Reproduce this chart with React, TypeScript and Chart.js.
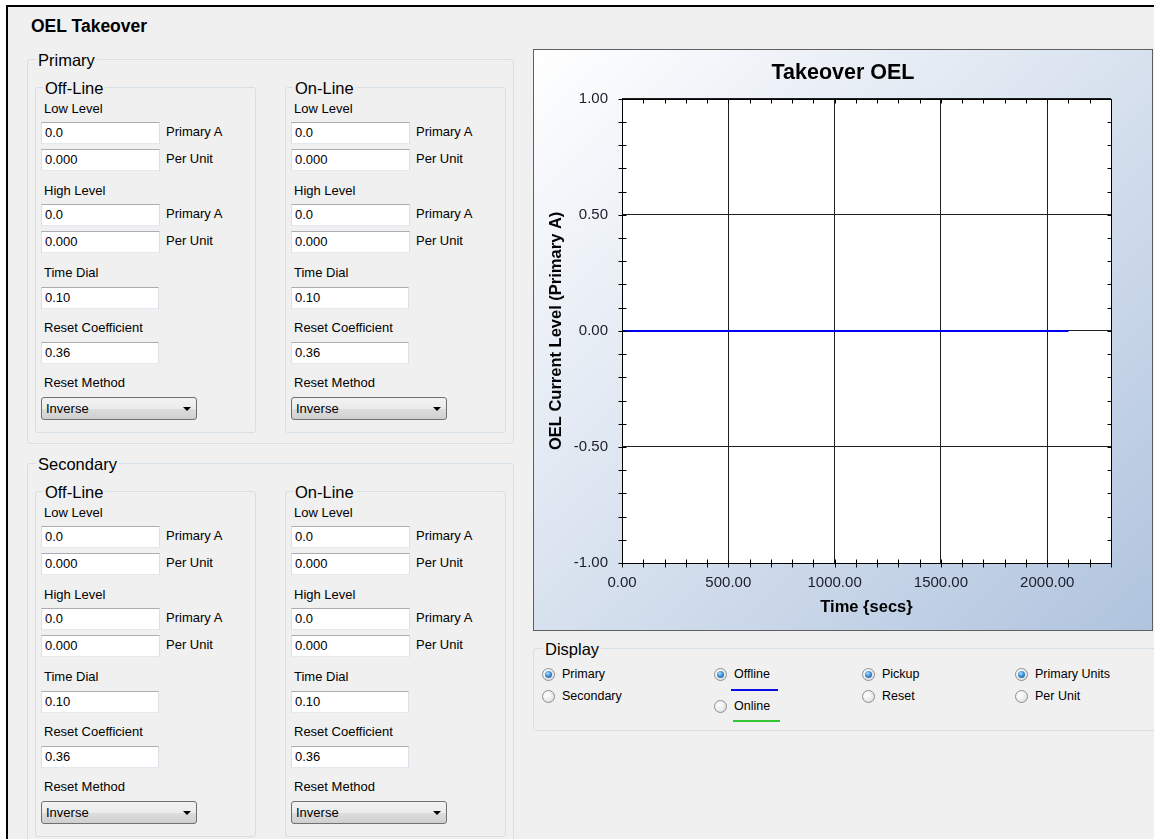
import React, { useEffect, useRef } from 'react';
import { Chart, registerables } from 'chart.js';

Chart.register(...registerables);

const FONT = "'Liberation Sans', Arial, sans-serif";

// ---------- chart data ----------
const TIME_SECS = [0, 2100];
const OFFLINE_LEVEL = [0, 0];
const X_RANGE = [0, 2300];
const Y_RANGE = [-1, 1];
const X_STEPS = [100, 500]; // minor, major
const Y_STEPS = [0.1, 0.5]; // minor, major
const CHART_TITLE = 'Takeover OEL';
const X_TITLE = 'Time {secs}';
const Y_TITLE = 'OEL Current Level (Primary A)';

// ---------- form data ----------
const WINDOW_TITLE = 'OEL Takeover';
const GROUP_TITLES = ['Primary', 'Secondary'];
const PANEL_TITLES = ['Off-Line', 'On-Line'];
const LEVEL_TITLES = ['Low Level', 'High Level'];
const LEVEL_VALUES = ['0.0', '0.000'];
const UNIT_LABELS = ['Primary A', 'Per Unit'];
const TIME_DIAL = '0.10';
const RESET_COEF = '0.36';
const RESET_METHOD = 'Inverse';
const DISPLAY_COLUMNS = [
  ['Primary', 'Secondary'],
  ['Offline', 'Online'],
  ['Pickup', 'Reset'],
  ['Primary Units', 'Per Unit'],
];

const isMajor = (v: number, step: number) => Math.abs(v / step - Math.round(v / step)) < 1e-6;
const fmtMajor = (v: number, step: number) => {
  if (!isMajor(v, step)) return '';
  const r = Math.round(v / step) * step;
  return (Math.abs(r) < 1e-9 ? 0 : r).toFixed(2);
};

const plotFrame = {
  id: 'plotFrame',
  beforeDraw(chart: any) {
    const { ctx, chartArea: a } = chart;
    ctx.save();
    ctx.fillStyle = '#ffffff';
    ctx.fillRect(a.left, a.top, a.right - a.left, a.bottom - a.top);
    ctx.restore();
  },
  afterDraw(chart: any) {
    const { ctx, chartArea: a, scales } = chart;
    const L = Math.round(a.left) + 0.5;
    const R = Math.round(a.right) + 0.5;
    const T = Math.round(a.top) + 0.5;
    const B = Math.round(a.bottom) + 0.5;
    ctx.save();
    ctx.strokeStyle = '#000';
    ctx.lineWidth = 1;
    ctx.strokeRect(L, T, R - L, B - T);
    ctx.beginPath();
    for (const t of scales.x.ticks) {
      const p = Math.round(scales.x.getPixelForValue(t.value)) + 0.5;
      ctx.moveTo(p, B - 4);
      ctx.lineTo(p, B + 4);
      ctx.moveTo(p, T);
      ctx.lineTo(p, T + 4);
    }
    for (const t of scales.y.ticks) {
      const p = Math.round(scales.y.getPixelForValue(t.value)) + 0.5;
      ctx.moveTo(L - 4, p);
      ctx.lineTo(L + 4, p);
      ctx.moveTo(R - 4, p);
      ctx.lineTo(R, p);
    }
    ctx.stroke();
    ctx.restore();
  },
};

function OelChart() {
  const ref = useRef<HTMLCanvasElement>(null);
  useEffect(() => {
    const gridColor = (step: number) => (c: any) =>
      c.tick && isMajor(c.tick.value, step) ? '#202020' : 'rgba(0,0,0,0)';
    const chart = new Chart(ref.current as HTMLCanvasElement, {
      type: 'line',
      data: {
        datasets: [
          {
            label: 'Offline',
            data: TIME_SECS.map((t, i) => ({ x: t, y: OFFLINE_LEVEL[i] })),
            borderColor: '#0000f0',
            borderWidth: 2,
            pointRadius: 0,
            fill: false,
            tension: 0,
          },
        ],
      },
      options: {
        animation: false,
        responsive: false,
        maintainAspectRatio: false,
        layout: { padding: 0 },
        plugins: {
          legend: { display: false },
          tooltip: { enabled: false },
          title: {
            display: true,
            text: CHART_TITLE,
            color: '#000',
            font: { family: FONT, size: 21.5, weight: 'bold' },
            padding: { top: 10, bottom: 13 },
          },
        },
        scales: {
          x: {
            type: 'linear',
            min: X_RANGE[0],
            max: X_RANGE[1],
            afterFit: (s: any) => {
              s.height = 67;
            },
            border: { display: false },
            grid: { color: gridColor(X_STEPS[1]), lineWidth: 1, drawTicks: false },
            ticks: {
              stepSize: X_STEPS[0],
              autoSkip: false,
              maxRotation: 0,
              minRotation: 0,
              padding: 11,
              color: '#1c1c2a',
              font: { family: FONT, size: 15 },
              callback: (v: any) => fmtMajor(Number(v), X_STEPS[1]),
            },
            title: {
              display: true,
              text: X_TITLE,
              color: '#000',
              font: { family: FONT, size: 16.5, weight: 'bold' },
              padding: { top: 0, bottom: 12.6 },
            },
          },
          y: {
            type: 'linear',
            min: Y_RANGE[0],
            max: Y_RANGE[1],
            afterFit: (s: any) => {
              s.width = 88;
            },
            border: { display: false },
            grid: { color: gridColor(Y_STEPS[1]), lineWidth: 1, drawTicks: false },
            ticks: {
              stepSize: Y_STEPS[0],
              autoSkip: false,
              padding: 14,
              color: '#1c1c2a',
              font: { family: FONT, size: 15 },
              callback: (v: any) => fmtMajor(Number(v), Y_STEPS[1]),
            },
            title: {
              display: true,
              text: Y_TITLE,
              color: '#000',
              font: { family: FONT, size: 16.5, weight: 'bold' },
              padding: { top: 12.6, bottom: 0 },
            },
          },
          yRight: {
            type: 'linear',
            position: 'right',
            display: true,
            afterFit: (s: any) => {
              s.width = 41;
            },
            border: { display: false },
            grid: { display: false, drawTicks: false },
            ticks: { display: false },
          },
        },
      } as any,
      plugins: [plotFrame as any],
    });
    return () => chart.destroy();
  }, []);
  return <canvas ref={ref} width={618} height={580} style={{ display: 'block' }} />;
}

function Text({ x, cy, size = 13, bold = false, color = '#000', children }: any) {
  const lh = Math.round(size * 1.25);
  return (
    <div
      style={{
        position: 'absolute',
        left: x,
        top: cy - lh / 2,
        fontSize: size,
        lineHeight: lh + 'px',
        fontWeight: bold ? 'bold' : 'normal',
        whiteSpace: 'nowrap',
        color,
        fontFamily: FONT,
      }}
    >
      {children}
    </div>
  );
}

function GroupBox({ left, top, right, bottom, label, labelX, size = 16.5 }: any) {
  return (
    <>
      <div
        style={{
          position: 'absolute',
          left,
          top,
          width: right - left,
          height: bottom - top,
          boxSizing: 'border-box',
          border: '1px solid #d5dfe5',
          borderRadius: 3,
        }}
      />
      <div
        style={{
          position: 'absolute',
          left: labelX - 2,
          top: top + 0.5 - 10,
          height: 20,
          lineHeight: '20px',
          fontSize: size,
          padding: '0 2px',
          background: '#f0f0f0',
          color: '#000',
          fontFamily: FONT,
          whiteSpace: 'nowrap',
        }}
      >
        {label}
      </div>
    </>
  );
}

function TextBox({ x, y, w = 119, h = 22, value }: any) {
  return (
    <div
      style={{
        position: 'absolute',
        left: x,
        top: y,
        width: w,
        height: h,
        boxSizing: 'border-box',
        background: '#fff',
        borderTop: '1px solid #abadb3',
        borderLeft: '1px solid #dbdfe6',
        borderRight: '1px solid #dbdfe6',
        borderBottom: '1px solid #e3e9ef',
        fontSize: 13,
        lineHeight: h - 2 + 'px',
        paddingLeft: 3,
        fontFamily: FONT,
        color: '#000',
        whiteSpace: 'nowrap',
      }}
    >
      {value}
    </div>
  );
}

function ComboBox({ x, y, w = 156, h = 23, value }: any) {
  return (
    <div
      style={{
        position: 'absolute',
        left: x,
        top: y,
        width: w,
        height: h,
        boxSizing: 'border-box',
        border: '1px solid #707070',
        borderRadius: 3,
        background: 'linear-gradient(to bottom, #f2f2f2 0%, #ebebeb 50%, #dddddd 51%, #cfcfcf 100%)',
        fontSize: 13,
        lineHeight: h - 2 + 'px',
        paddingLeft: 4,
        fontFamily: FONT,
        color: '#000',
      }}
    >
      {value}
      <div
        style={{
          position: 'absolute',
          left: w - 15,
          top: 9,
          width: 0,
          height: 0,
          borderLeft: '4px solid transparent',
          borderRight: '4px solid transparent',
          borderTop: '4px solid #000',
        }}
      />
    </div>
  );
}

function SettingsPanel({ left, top, title }: any) {
  const lx = left + 9;
  const ix = left + 6;
  const ux = left + 131;
  return (
    <>
      <GroupBox left={left} top={top} right={left + 221} bottom={top + 346} label={title} labelX={left + 10} />
      {LEVEL_TITLES.map((lt, li) => {
        const dy = li * 82;
        return (
          <React.Fragment key={lt}>
            <Text x={lx} cy={top + 22 + dy}>{lt}</Text>
            {LEVEL_VALUES.map((v, vi) => (
              <React.Fragment key={vi}>
                <TextBox x={ix} y={top + 35 + dy + vi * 27} value={v} />
                <Text x={ux} cy={top + 45 + dy + vi * 27}>{UNIT_LABELS[vi]}</Text>
              </React.Fragment>
            ))}
          </React.Fragment>
        );
      })}
      <Text x={lx} cy={top + 186}>Time Dial</Text>
      <TextBox x={ix} y={top + 200} w={118} value={TIME_DIAL} />
      <Text x={lx} cy={top + 241}>Reset Coefficient</Text>
      <TextBox x={ix} y={top + 255} w={118} value={RESET_COEF} />
      <Text x={lx} cy={top + 296}>Reset Method</Text>
      <ComboBox x={ix} y={top + 310} value={RESET_METHOD} />
    </>
  );
}

function Radio({ cx, cy, checked, label }: any) {
  return (
    <>
      <div
        style={{
          position: 'absolute',
          left: cx - 6.5,
          top: cy - 6.5,
          width: 13,
          height: 13,
          borderRadius: '50%',
          boxSizing: 'border-box',
          border: '1px solid #8e8f8f',
          background: 'radial-gradient(circle at 35% 35%, #ffffff 0%, #eeeeee 50%, #d0d0d0 100%)',
        }}
      >
        {checked && (
          <div
            style={{
              position: 'absolute',
              left: 2,
              top: 2,
              width: 7,
              height: 7,
              borderRadius: '50%',
              background: 'radial-gradient(circle at 40% 35%, #b5e2ff 0%, #3c8fd8 45%, #1a4f8a 100%)',
            }}
          />
        )}
      </div>
      <Text x={cx + 14} cy={cy} size={12.5}>{label}</Text>
    </>
  );
}

export default function App() {
  const radioX = [548, 720, 868, 1021];
  return (
    <div
      style={{
        position: 'fixed',
        left: 0,
        top: 0,
        width: 1154,
        height: 839,
        background: '#fff',
        overflow: 'hidden',
        fontFamily: FONT,
      }}
    >
      <div
        style={{
          position: 'absolute',
          left: 6,
          top: 5,
          right: 0,
          bottom: 0,
          background: '#f0f0f0',
          borderLeft: '2px solid #000',
          borderTop: '2px solid #000',
        }}
      />
      <Text x={31} cy={26} size={17.5} bold>{WINDOW_TITLE}</Text>

      {GROUP_TITLES.map((g, gi) => {
        const dy = gi * 404;
        return (
          <React.Fragment key={g}>
            <GroupBox left={27} top={59 + dy} right={514} bottom={gi === 0 ? 444 : 900} label={g} labelX={38} />
            {PANEL_TITLES.map((p, pi) => (
              <SettingsPanel key={p} left={35 + pi * 250} top={87 + dy} title={p} />
            ))}
          </React.Fragment>
        );
      })}

      <div
        style={{
          position: 'absolute',
          left: 533,
          top: 49,
          width: 620,
          height: 582,
          boxSizing: 'border-box',
          border: '1px solid #5f5f5f',
          background: 'linear-gradient(to bottom right, #ffffff 0%, #b0c4de 100%)',
        }}
      >
        <OelChart />
      </div>

      <GroupBox left={533} top={648} right={1170} bottom={731} label="Display" labelX={545} />
      {DISPLAY_COLUMNS.map((col, ci) => (
        <React.Fragment key={ci}>
          <Radio cx={radioX[ci]} cy={674} checked label={col[0]} />
          <Radio cx={radioX[ci]} cy={ci === 1 ? 706 : 696} checked={false} label={col[1]} />
        </React.Fragment>
      ))}
      <div style={{ position: 'absolute', left: 731, top: 689, width: 47, height: 2, background: '#0a0ae6' }} />
      <div style={{ position: 'absolute', left: 733, top: 720, width: 47, height: 2, background: '#33c633' }} />
    </div>
  );
}
